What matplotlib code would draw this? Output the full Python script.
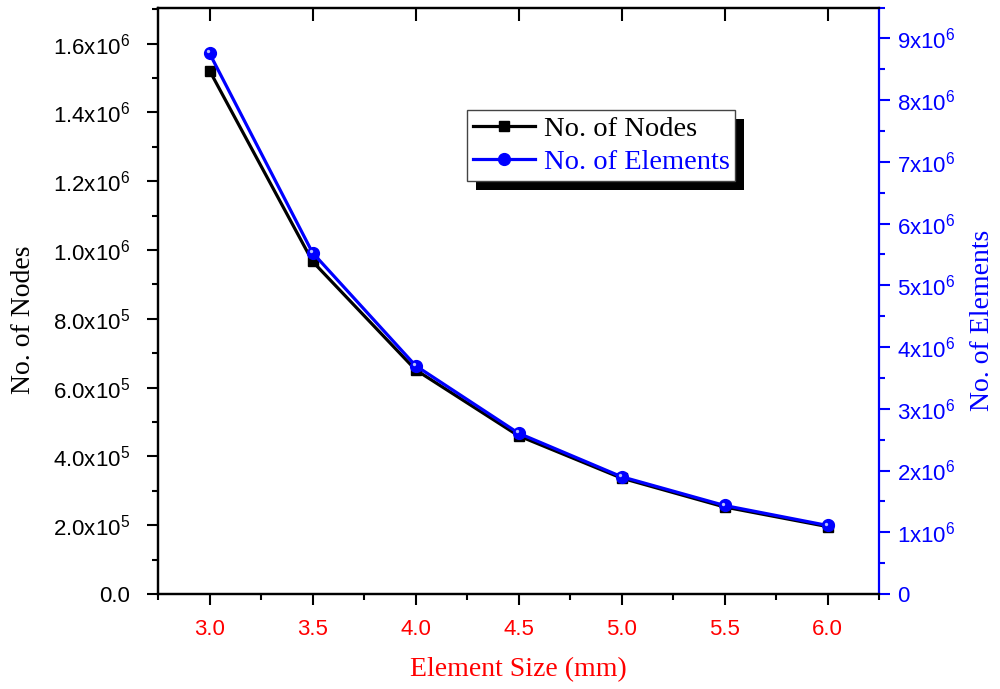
import matplotlib
matplotlib.use("Agg")
import matplotlib.pyplot as plt
from matplotlib.ticker import MultipleLocator, FuncFormatter
from matplotlib.patches import Rectangle
from matplotlib.transforms import ScaledTranslation

element_size = [3.0, 3.5, 4.0, 4.5, 5.0, 5.5, 6.0]
nodes = [1.522e6, 9.67e5, 6.52e5, 4.60e5, 3.37e5, 2.53e5, 1.96e5]
elements = [8.76e6, 5.53e6, 3.70e6, 2.605e6, 1.90e6, 1.434e6, 1.11e6]

plt.rcParams["font.family"] = "Liberation Sans"
plt.rcParams["mathtext.fontset"] = "custom"
plt.rcParams["mathtext.rm"] = "Liberation Sans"
plt.rcParams["mathtext.it"] = "Liberation Sans"
serif = "Liberation Serif"
blue = "#0000ff"
red = "#ff0000"


def left_fmt(v, pos):
    if v == 0:
        return "0.0"
    e = 6 if v >= 1e6 else 5
    return f"{v / 10**e:.1f}x10$^{{{e}}}$"


def right_fmt(v, pos):
    if v == 0:
        return "0"
    return f"{v / 1e6:.0f}x10$^{{6}}$"


fig = plt.figure(figsize=(10, 6.89), dpi=100)
ax = fig.add_axes([0.158, 0.1379, 0.721, 0.8511])
ax2 = ax.twinx()

l1, = ax.plot(element_size, nodes, color="black", lw=2.3, marker="s", ms=7.5,
              label="No. of Nodes", zorder=3)
l2, = ax2.plot(element_size, elements, color=blue, lw=2.3, marker="o", ms=8.5,
               label="No. of Elements", zorder=3)
# small specular highlight on the blue spheres
shift = ScaledTranslation(-1.3 / 72, 1.3 / 72, fig.dpi_scale_trans)
ax2.plot(element_size, elements, ls="none", marker="o", ms=2.4, color="#b8c0ff",
         markeredgewidth=0, zorder=4, transform=ax2.transData + shift)

ax.set_xlim(2.75, 6.25)
ax.set_ylim(0, 1.705e6)
ax2.set_ylim(0, 9.5e6)

ax.xaxis.set_major_locator(MultipleLocator(0.5))
ax.xaxis.set_minor_locator(MultipleLocator(0.25))
ax.yaxis.set_major_locator(MultipleLocator(2e5))
ax.yaxis.set_minor_locator(MultipleLocator(1e5))
ax.yaxis.set_major_formatter(FuncFormatter(left_fmt))
ax.xaxis.set_major_formatter(FuncFormatter(lambda v, p: f"{v:.1f}"))
ax2.yaxis.set_major_locator(MultipleLocator(1e6))
ax2.yaxis.set_minor_locator(MultipleLocator(5e5))
ax2.yaxis.set_major_formatter(FuncFormatter(right_fmt))

for a in (ax, ax2):
    for s in a.spines.values():
        s.set_linewidth(1.6)
ax2.spines["right"].set_color(blue)
ax.spines["right"].set_visible(False)

ax.tick_params(axis="y", which="major", direction="out", length=8, width=1.5,
               labelsize=16, pad=12, right=False)
ax.tick_params(axis="y", which="minor", direction="out", length=4.5, width=1.5, right=False)
ax.tick_params(axis="x", which="major", direction="out", length=8, width=1.5,
               labelsize=16, pad=10, labelcolor=red)
ax.tick_params(axis="x", which="minor", direction="out", length=4.5, width=1.5)
ax2.tick_params(axis="y", which="major", direction="out", length=8, width=1.5,
                labelsize=16, pad=5, color=blue, labelcolor=blue)
ax2.tick_params(axis="y", which="minor", direction="out", length=4.5, width=1.5, color=blue)
ax.tick_params(axis="x", which="major", top=True, labeltop=False)
ax.tick_params(axis="x", which="minor", top=False)
for t in ax.xaxis.get_major_ticks():
    t.tick2line.set_markersize(9)
    t.tick2line.set_marker(3)

ax.set_xlabel("Element Size (mm)", family=serif, fontsize=20, color=red, labelpad=12)
ax.set_ylabel("No. of Nodes", family=serif, fontsize=20, color="black")
ax2.set_ylabel("No. of Elements", family=serif, fontsize=20, color=blue, rotation=90)
ax.yaxis.set_label_coords(-0.187, 0.467)
ax2.yaxis.set_label_coords(1.143, 0.467)
ax2.yaxis.label.set_va("center")
ax.yaxis.label.set_va("center")

leg = ax2.legend(handles=[l1, l2], loc="upper left", bbox_to_anchor=(0.4286, 0.825),
                 prop={"family": serif, "size": 20.5}, fancybox=False, framealpha=1,
                 edgecolor="#444444", handlelength=2.2, handletextpad=0.3,
                 labelspacing=0.25, borderpad=0.2, borderaxespad=0)
leg.get_frame().set_linewidth(1.0)
leg.get_texts()[1].set_color(blue)

fig.canvas.draw()
bb = leg.get_window_extent()
shadow = Rectangle((bb.x0 + 9, bb.y0 - 9), bb.width, bb.height, transform=None,
                   facecolor="black", edgecolor="none", zorder=4.9, clip_on=False)
ax2.add_artist(shadow)

fig.savefig("out.png", dpi=100)
